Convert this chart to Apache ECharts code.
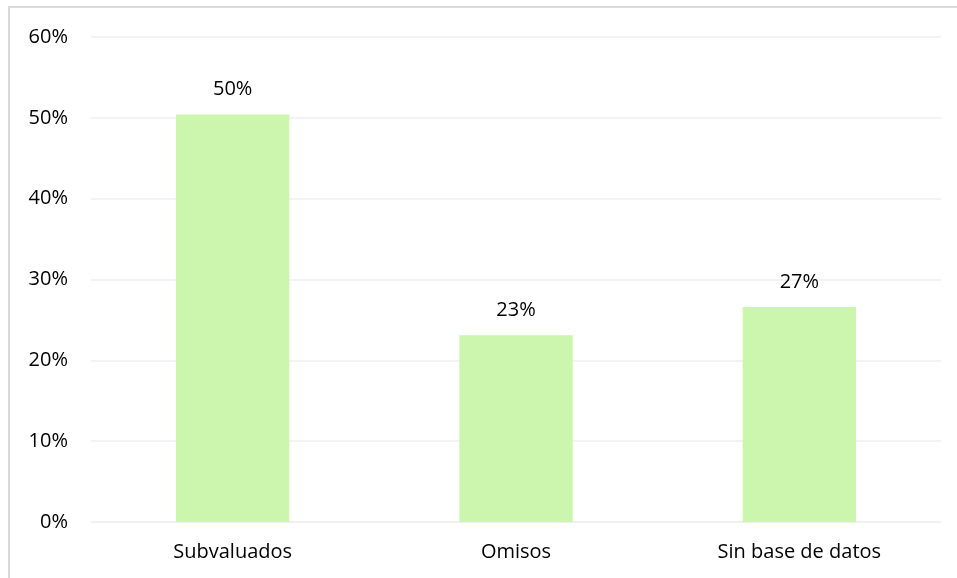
<!DOCTYPE html>
<html>
<head>
<meta charset="utf-8">
<script src="https://cdn.jsdelivr.net/npm/echarts@6/dist/echarts.min.js"></script>
<style>
	html, body { margin: 0; padding: 0; background: #fff; }
	#chart { width: 957px; height: 578px; }
</style>
</head>
<body>
<div id="chart"></div>
<script>
var categories = ['Subvaluados', 'Omisos', 'Sin base de datos'];
var shares = [0.504, 0.231, 0.266];
var axisMax = 0.6;
var axisStep = 0.1;

var chartColors = {
	bar: '#ccf5ae',
	grid: '#efefef',
	text: '#000000',
	frame: '#d9d9d9'
};
var chartFont = 'Open Sans';

function pct(v) {
	return Math.round(v * 100) + '%';
}

var chart = echarts.init(document.getElementById('chart'));

chart.setOption({
	animation: false,
	textStyle: { fontFamily: chartFont },
	graphic: [{
		type: 'rect',
		shape: { x: 9, y: 7, width: 1200, height: 1200 },
		style: { fill: 'none', stroke: chartColors.frame, lineWidth: 2 },
		silent: true
	}],
	grid: {
		left: 91,
		right: 16,
		top: 37,
		bottom: 56
	},
	xAxis: {
		type: 'category',
		data: categories,
		axisTick: { show: false },
		axisLine: { show: true, lineStyle: { color: chartColors.grid, width: 1.5 } },
		axisLabel: {
			margin: 20,
			fontSize: 20,
			fontFamily: chartFont,
			color: chartColors.text
		}
	},
	yAxis: {
		type: 'value',
		min: 0,
		max: axisMax,
		interval: axisStep,
		axisLine: { show: false },
		axisTick: { show: false },
		splitLine: { lineStyle: { color: chartColors.grid, width: 1.5 } },
		axisLabel: {
			margin: 23,
			fontSize: 20,
			fontFamily: chartFont,
			color: chartColors.text,
			formatter: pct
		}
	},
	series: [{
		type: 'bar',
		data: shares,
		barWidth: '40%',
		itemStyle: { color: chartColors.bar },
		label: {
			show: true,
			position: 'top',
			distance: 15,
			fontSize: 20,
			fontFamily: chartFont,
			color: chartColors.text,
			formatter: function (p) { return pct(p.value); }
		}
	}]
});
</script>
</body>
</html>
